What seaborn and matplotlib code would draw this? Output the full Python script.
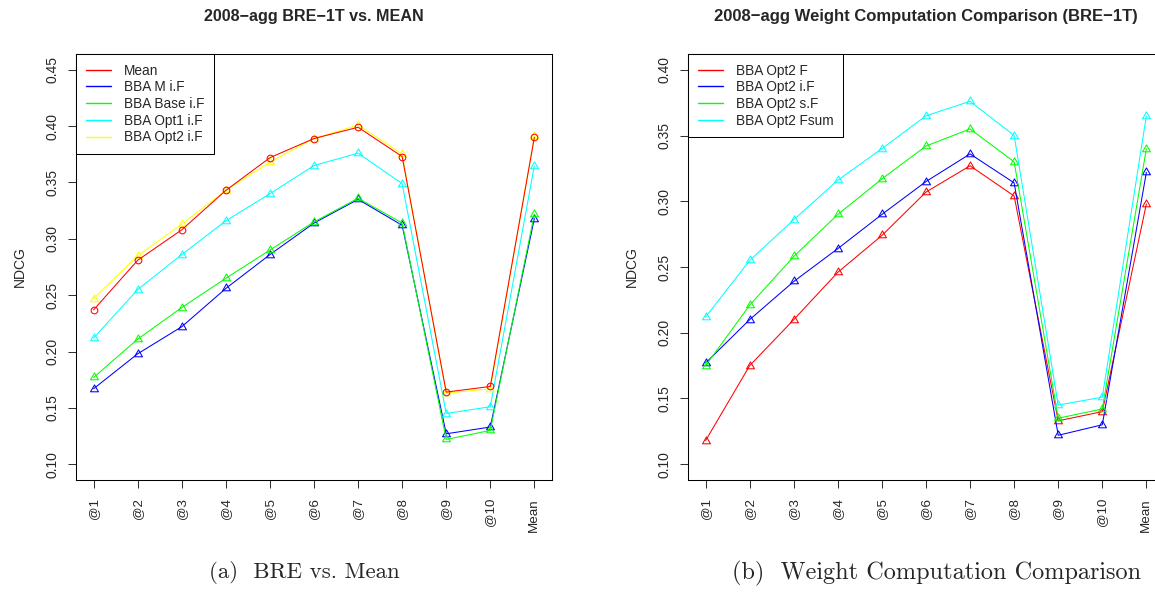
import numpy as np
import pandas as pd
import seaborn as sns
import matplotlib.pyplot as plt
from matplotlib.path import Path
from matplotlib.lines import Line2D

# x axis categories (both panels)
ranks = ["@1", "@2", "@3", "@4", "@5", "@6", "@7", "@8", "@9", "@10", "Mean"]

# (a) BRE-1T vs. MEAN
mean_a = [0.237, 0.281, 0.308, 0.343, 0.372, 0.389, 0.399, 0.373, 0.164, 0.169, 0.390]
bba_m_if = [0.167, 0.198, 0.222, 0.256, 0.286, 0.314, 0.335, 0.312, 0.127, 0.133, 0.318]
bba_base_if = [0.177, 0.211, 0.239, 0.265, 0.290, 0.315, 0.336, 0.314, 0.122, 0.130, 0.322]
bba_opt1_if = [0.212, 0.255, 0.286, 0.316, 0.340, 0.365, 0.376, 0.349, 0.145, 0.151, 0.365]
bba_opt2_if = [0.247, 0.285, 0.313, 0.343, 0.368, 0.389, 0.401, 0.375, 0.163, 0.167, 0.391]

# (b) weight computation comparison
opt2_f = [0.118, 0.175, 0.210, 0.246, 0.274, 0.307, 0.327, 0.304, 0.133, 0.140, 0.298]
opt2_if = [0.177, 0.210, 0.239, 0.264, 0.290, 0.315, 0.336, 0.314, 0.122, 0.130, 0.322]
opt2_sf = [0.175, 0.221, 0.258, 0.290, 0.317, 0.342, 0.355, 0.330, 0.135, 0.142, 0.340]
opt2_fsum = [0.212, 0.255, 0.286, 0.316, 0.340, 0.365, 0.376, 0.350, 0.145, 0.151, 0.365]

sns.set_theme(style="ticks")
plt.rcParams["font.family"] = ["Liberation Sans", "DejaVu Sans"]

# R style triangle (pch = 2), centred on the point
tri = Path([(0, 1), (-0.866, -0.5), (0.866, -0.5), (0, 1)],
           [Path.MOVETO, Path.LINETO, Path.LINETO, Path.CLOSEPOLY])

pos = np.arange(1, len(ranks) + 1)


def make_df(series):
    rows = []
    for name, vals in series.items():
        for p, v in zip(pos, vals):
            rows.append({"serie": name, "pos": p, "ndcg": v})
    return pd.DataFrame(rows)


def panel(ax, df, colors, markers, legend_order, ylim, yticks, title, title_fs):
    # draw order matters a bit for overlaps
    for name in colors:
        sub = df[df["serie"] == name]
        m = markers[name]
        sns.lineplot(data=sub, x="pos", y="ndcg", ax=ax, color=colors[name],
                     marker=tri if m == "tri" else "o",
                     markersize=6.6 if m == "tri" else 4.8,
                     mfc="none", mec=colors[name], mew=0.75, lw=0.75,
                     errorbar=None, legend=False)
    ax.set_xlim(0.6, 11.4)
    lo, hi = ylim
    pad = (hi - lo) * 0.04
    ax.set_ylim(lo - pad, hi + pad)
    ax.set_xticks(pos)
    ax.set_xticklabels(ranks, rotation=90, fontsize=9.6)
    ax.set_yticks(yticks)
    ax.set_yticklabels([f"{t:.2f}" for t in yticks], rotation=90, va="center", fontsize=10)
    ax.tick_params(axis="both", length=6, width=0.75, color="#333333")
    ax.tick_params(axis="x", pad=7)
    ax.tick_params(axis="y", pad=6)
    ax.set_xlabel("")
    ax.set_ylabel("NDCG", fontsize=10)
    ax.yaxis.set_label_coords(-0.104, 0.5)
    for sp in ax.spines.values():
        sp.set_color("black")
        sp.set_linewidth(0.75)
    handles = [Line2D([], [], color=colors[n], lw=1.0) for n in legend_order]
    leg = ax.legend(handles, legend_order, loc="upper left", borderaxespad=0,
                    fancybox=False, edgecolor="black", framealpha=1, fontsize=9.8,
                    handlelength=1.85, handletextpad=0.95, labelspacing=0.2,
                    borderpad=0.7)
    leg.get_frame().set_linewidth(0.75)
    ax.text(0.5, 1 + 37 / 426, title, transform=ax.transAxes, ha="center",
            va="center", fontsize=title_fs, fontweight="bold")


fig = plt.figure(figsize=(11.55, 6.01), dpi=100)
ax1 = fig.add_axes([76 / 1155, 1 - 480 / 601, 476 / 1155, 426 / 601])
ax2 = fig.add_axes([688 / 1155, 1 - 480 / 601, 476 / 1155, 426 / 601])

df_a = make_df({"Mean": mean_a, "BBA M i.F": bba_m_if, "BBA Base i.F": bba_base_if,
                "BBA Opt1 i.F": bba_opt1_if, "BBA Opt2 i.F": bba_opt2_if})
colors_a = {"BBA M i.F": "#0000FF", "BBA Base i.F": "#00FF00", "BBA Opt1 i.F": "#00FFFF",
            "BBA Opt2 i.F": "#FFFF00", "Mean": "#FF0000"}
markers_a = {n: "tri" for n in colors_a}
markers_a["Mean"] = "circle"
panel(ax1, df_a, colors_a, markers_a,
      ["Mean", "BBA M i.F", "BBA Base i.F", "BBA Opt1 i.F", "BBA Opt2 i.F"],
      (0.10, 0.45), [0.10, 0.15, 0.20, 0.25, 0.30, 0.35, 0.40, 0.45],
      "2008\u2212agg BRE\u22121T vs. MEAN", 11.6)

df_b = make_df({"BBA Opt2 F": opt2_f, "BBA Opt2 i.F": opt2_if,
                "BBA Opt2 s.F": opt2_sf, "BBA Opt2 Fsum": opt2_fsum})
colors_b = {"BBA Opt2 F": "#FF0000", "BBA Opt2 i.F": "#0000FF",
            "BBA Opt2 s.F": "#00FF00", "BBA Opt2 Fsum": "#00FFFF"}
markers_b = {n: "tri" for n in colors_b}
panel(ax2, df_b, colors_b, markers_b, list(colors_b),
      (0.10, 0.40), [0.10, 0.15, 0.20, 0.25, 0.30, 0.35, 0.40],
      "2008\u2212agg Weight Computation Comparison (BRE\u22121T)", 12.0)

fig.text(304 / 1155, 1 - 573 / 601, "(a)  BRE vs. Mean", family="cmr10",
         fontsize=16.5, ha="center", va="center")
fig.text(937 / 1155, 1 - 573 / 601, "(b)  Weight Computation Comparison", family="cmr10",
         fontsize=17.5, ha="center", va="center")

fig.savefig("out.png", dpi=100)
